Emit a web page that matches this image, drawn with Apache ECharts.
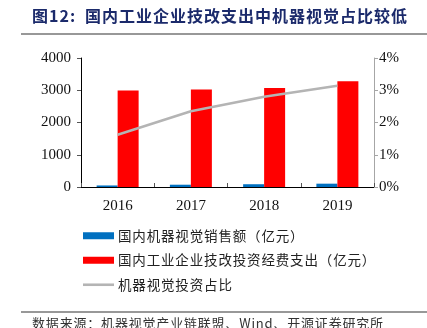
<!DOCTYPE html>
<html>
<head>
<meta charset="utf-8">
<script src="https://cdn.jsdelivr.net/npm/echarts@6/dist/echarts.min.js"></script>
<style>
  html, body { margin: 0; padding: 0; background: #fff; }
  #chart { width: 427px; height: 328px; }
</style>
</head>
<body>
<div id="chart"></div>
<script>
// Years on the category axis
const years = ['2016', '2017', '2018', '2019'];
// 国内机器视觉销售额（亿元）
const visionSales = [48, 71, 86, 103];
// 国内工业企业技改投资经费支出（亿元）
const techSpend = [2990, 3020, 3070, 3280];
// 机器视觉投资占比 (%)
const visionShare = [1.62, 2.35, 2.80, 3.14];
// Tick labels
const leftTicks = [0, 1000, 2000, 3000, 4000];
const rightTicks = [0, 1, 2, 3, 4];

const titleText = '图12:\u2002国内工业企业技改支出中机器视觉占比较低';
const sourceText = '数据来源：机器视觉产业链联盟、Wind、开源证券研究所';

const serif = '"Liberation Serif", "Times New Roman", serif';
const cjk = '"Noto Sans CJK SC", sans-serif';

// widen CJK strings slightly with hair spaces between characters
function spaced(s) { return s.split('').join('\u200A'); }

const chart = echarts.init(document.getElementById('chart'), null, { renderer: 'canvas' });

chart.setOption({
  animation: false,
  backgroundColor: '#ffffff',
  grid: { left: 81, right: 53, top: 58, bottom: 141 },
  graphic: [
    {
      type: 'text', left: 32, top: 8,
      style: { text: spaced(titleText), font: 'bold 16px ' + cjk, fill: '#1b2a6b' }
    },
    {
      type: 'line', shape: { x1: 21, y1: 34, x2: 427, y2: 34 },
      style: { stroke: '#333', lineWidth: 1.2 }
    },
    {
      type: 'line', shape: { x1: 21, y1: 312, x2: 427, y2: 312 },
      style: { stroke: '#333', lineWidth: 1.2 }
    },
    {
      type: 'text', left: 32, top: 317,
      style: { text: spaced(sourceText), font: '13px ' + cjk, fill: '#333' }
    }
  ],
  legend: {
    orient: 'vertical',
    left: 78, top: 224,
    itemGap: 11,
    itemWidth: 31, itemHeight: 7,
    textStyle: { fontFamily: cjk, fontSize: 13.5, color: '#222', padding: [0, 0, 0, -1] },
    data: [
      { name: '国内机器视觉销售额（亿元）', icon: 'rect' },
      { name: '国内工业企业技改投资经费支出（亿元）', icon: 'rect' },
      { name: '机器视觉投资占比', icon: 'path://M0,0H31V2.6H0Z' }
    ],
    formatter: function (n) { return spaced(n); }
  },
  xAxis: {
    type: 'category',
    data: years,
    axisLine: { lineStyle: { color: '#000', width: 1 } },
    axisTick: { show: true, inside: true, length: 4, lineStyle: { color: '#555' } },
    axisLabel: { fontFamily: serif, fontSize: 15, color: '#111', margin: 12 }
  },
  yAxis: [
    {
      type: 'value', min: 0, max: 4000, interval: 1000,
      axisLine: { show: true, lineStyle: { color: '#000' } },
      axisTick: { show: true, length: 4, lineStyle: { color: '#555' } },
      splitLine: { show: false },
      axisLabel: {
        fontFamily: serif, fontSize: 15, color: '#111', margin: 10,
        formatter: function (v) { return leftTicks.indexOf(v) >= 0 ? String(v) : ''; }
      }
    },
    {
      type: 'value', min: 0, max: 4, interval: 1,
      position: 'right',
      axisLine: { show: true, lineStyle: { color: '#a6a6a6' } },
      axisTick: { show: true, length: 4, lineStyle: { color: '#a6a6a6' } },
      splitLine: { show: false },
      axisLabel: {
        fontFamily: serif, fontSize: 15, color: '#111', margin: 5,
        formatter: function (v) { return rightTicks.indexOf(v) >= 0 ? v + '%' : ''; }
      }
    }
  ],
  series: [
    {
      name: '国内机器视觉销售额（亿元）',
      type: 'bar', yAxisIndex: 0,
      data: visionSales,
      barWidth: 21, barGap: '0%',
      itemStyle: { color: '#0070c0' }
    },
    {
      name: '国内工业企业技改投资经费支出（亿元）',
      type: 'bar', yAxisIndex: 0,
      data: techSpend,
      barWidth: 21, barGap: '0%',
      itemStyle: { color: '#ff0000' }
    },
    {
      name: '机器视觉投资占比',
      type: 'line', yAxisIndex: 1,
      data: visionShare,
      symbol: 'none',
      lineStyle: { color: '#b4b4b4', width: 2.5 },
      itemStyle: { color: '#b4b4b4' }
    }
  ]
});
</script>
</body>
</html>
